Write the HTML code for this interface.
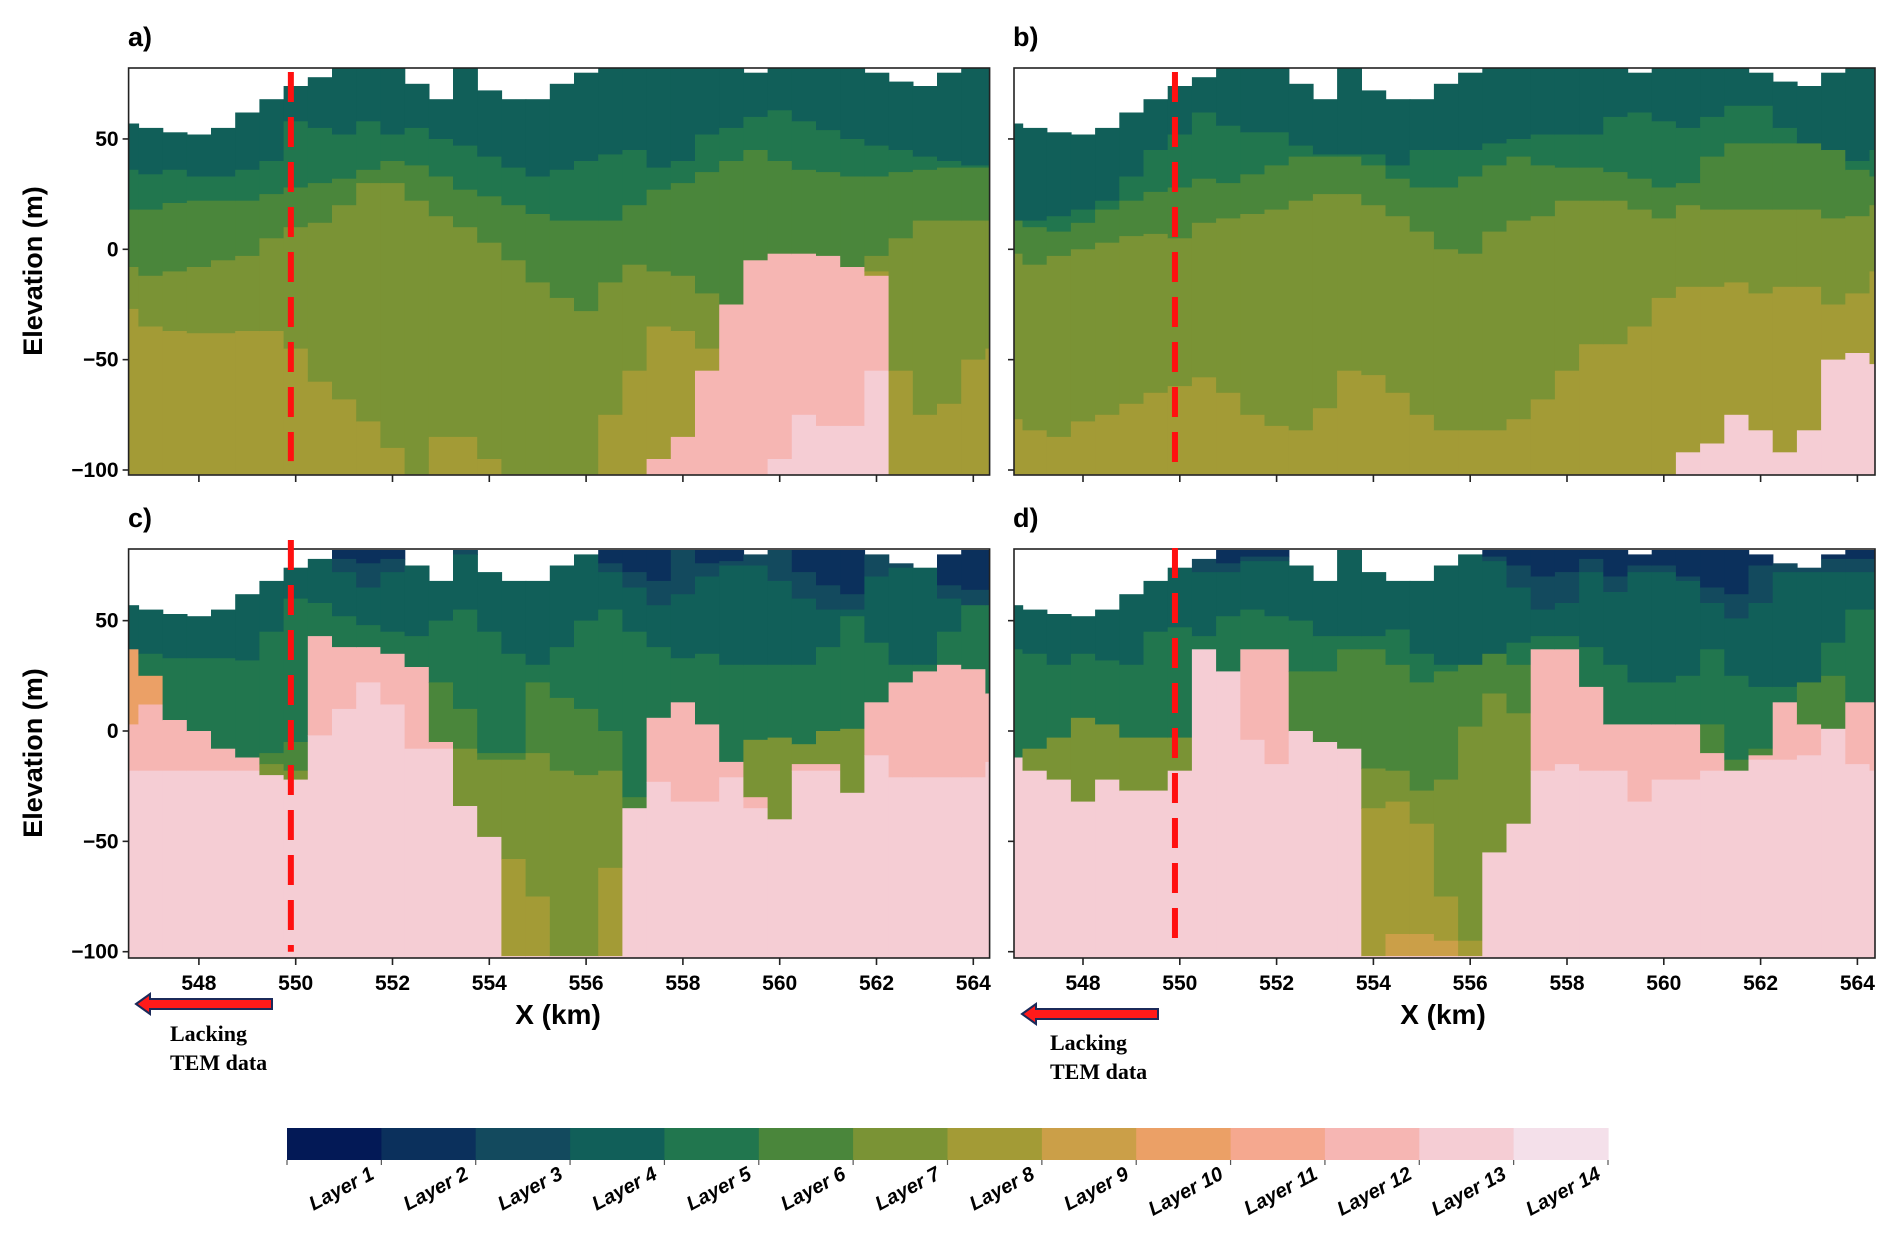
<!DOCTYPE html>
<html>
<head>
<meta charset="utf-8">
<style>
  html,body{margin:0;padding:0;background:#fff;}
  svg{display:block;}
  text{font-family:"Liberation Sans",Arial,sans-serif;}
  text.serif{font-family:"Liberation Serif","Times New Roman",serif;}
</style>
</head>
<body>
<svg id="fig" xmlns="http://www.w3.org/2000/svg" width="1892" height="1237" viewBox="0 0 1892 1237">
  <rect x="0" y="0" width="1892" height="1237" fill="#ffffff"/>
  <defs>
    <clipPath id="clipA"><rect x="128.6" y="68" width="861" height="407"/></clipPath>
    <clipPath id="clipB"><rect x="1014" y="68" width="861" height="407"/></clipPath>
    <clipPath id="clipC"><rect x="128.6" y="549" width="861" height="409"/></clipPath>
    <clipPath id="clipD"><rect x="1014" y="549" width="861" height="409"/></clipPath>
  </defs>
  <g id="layerA" clip-path="url(#clipA)"></g>
  <g id="layerB" clip-path="url(#clipB)"></g>
  <g id="layerC" clip-path="url(#clipC)"></g>
  <g id="layerD" clip-path="url(#clipD)"></g>
  <g id="overlay"></g>

  <text x="128" y="46" font-size="27" font-weight="bold">a)</text>
  <text x="1013" y="46" font-size="27" font-weight="bold">b)</text>
  <text x="128" y="527" font-size="27" font-weight="bold">c)</text>
  <text x="1013" y="527" font-size="27" font-weight="bold">d)</text>

  <text transform="translate(42,271) rotate(-90)" text-anchor="middle" font-size="27" font-weight="bold">Elevation (m)</text>
  <text transform="translate(42,753) rotate(-90)" text-anchor="middle" font-size="27" font-weight="bold">Elevation (m)</text>
  <text x="558" y="1024" text-anchor="middle" font-size="28" font-weight="bold">X (km)</text>
  <text x="1443" y="1024" text-anchor="middle" font-size="28" font-weight="bold">X (km)</text>

  <g>
    <polygon points="136,1004 150,994 150,999 272,999 272,1009 150,1009 150,1014" fill="#ff1a1a" stroke="#1b2a5a" stroke-width="2"/>
    <text class="serif" x="170" y="1041" font-size="22" font-weight="bold">Lacking</text>
    <text class="serif" x="170" y="1070" font-size="22" font-weight="bold">TEM data</text>
  </g>
  <g>
    <polygon points="1022,1014 1036,1004 1036,1009 1158,1009 1158,1019 1036,1019 1036,1024" fill="#ff1a1a" stroke="#1b2a5a" stroke-width="2"/>
    <text class="serif" x="1050" y="1050" font-size="22" font-weight="bold">Lacking</text>
    <text class="serif" x="1050" y="1079" font-size="22" font-weight="bold">TEM data</text>
  </g>
  <g id="colorbar"></g>
</svg>
<script>
// ---------- data ----------
const KM = [546.5,547,547.5,548,548.5,549,549.5,550,550.5,551,551.5,552,552.5,553,553.5,554,554.5,555,555.5,556,556.5,557,557.5,558,558.5,559,559.5,560,560.5,561,561.5,562,562.5,563,563.5,564,564.5];
const LAYER_COLORS = ['#031956','#0b305c','#134a5e','#115f59','#21764e','#4a863b','#7a9335','#a39b36','#cb9f48','#eba066','#f5a88f','#f6b6b3','#f5cdd4','#f4e0ea'];
const LAYER_LABELS = ['Layer 1','Layer 2','Layer 3','Layer 4','Layer 5','Layer 6','Layer 7','Layer 8','Layer 9','Layer 10','Layer 11','Layer 12','Layer 13','Layer 14'];
const Y_TICKS = [50,0,-50,-100];
const X_TICKS = [548,550,552,554,556,558,560,562,564];
const BOUNDARY_KM = 549.9;

const SURFACE = [57,55,53,52,55,62,68,74,78,82,82,82,75,68,82,72,68,68,75,80,82,82,82,82,82,82,80,82,82,82,82,80,76,74,80,82,82];

const A_L4 = [36,34,36,33,33,36,40,58,55,52,58,52,55,50,47,42,37,33,36,40,43,45,37,40,52,55,60,63,58,54,50,47,45,42,40,38,38];
const A_L5 = [18,18,21,22,22,22,25,28,30,32,36,40,38,33,27,24,20,16,13,13,13,20,27,30,35,40,45,40,36,35,33,33,35,36,37,37,37];
const A_L6 = [-8,-12,-10,-8,-5,-3,5,10,12,20,30,30,22,15,10,3,-5,-15,-22,-28,-15,-7,-10,-12,-20,-25,-5,-2,-2,-3,-8,-3,5,13,13,13,13];
const A_L7 = [-27,-35,-37,-38,-38,-37,-37,-45,-60,-68,-78,-90,-102,-85,-85,-95,-102,-102,-102,-102,-75,-55,-35,-37,-45,-25,-5,-2,-2,-3,-8,-10,-55,-75,-70,-50,-45];
const A_L8 = [-102,-102,-102,-102,-102,-102,-102,-102,-102,-102,-102,-102,-102,-102,-102,-102,-102,-102,-102,-102,-102,-102,-95,-85,-55,-25,-5,-2,-2,-3,-8,-12,-102,-102,-102,-102,-102];
const A_L12 = [-102,-102,-102,-102,-102,-102,-102,-102,-102,-102,-102,-102,-102,-102,-102,-102,-102,-102,-102,-102,-102,-102,-102,-102,-102,-102,-102,-95,-75,-80,-80,-55,-102,-102,-102,-102,-102];

const B_L4 = [13,13,15,18,22,33,45,52,62,56,53,53,47,43,43,43,38,45,45,45,48,50,52,52,52,60,62,58,55,60,65,65,55,48,45,40,45];
const B_L5 = [13,10,8,12,18,22,26,28,32,30,34,38,42,42,42,38,32,28,28,33,38,42,38,37,37,35,32,28,30,42,48,48,48,48,45,36,33];
const B_L6 = [-2,-7,-3,0,3,6,7,5,12,14,16,18,22,25,25,20,15,8,0,-2,8,13,15,22,22,22,18,14,20,18,18,18,18,18,14,15,20];
const B_L7 = [-77,-82,-85,-78,-75,-70,-65,-62,-58,-65,-75,-80,-82,-72,-55,-57,-65,-75,-82,-82,-82,-77,-68,-55,-43,-43,-35,-22,-17,-17,-15,-20,-17,-17,-25,-20,-10];
const B_L8 = [-102,-102,-102,-102,-102,-102,-102,-102,-102,-102,-102,-102,-102,-102,-102,-102,-102,-102,-102,-102,-102,-102,-102,-102,-102,-102,-102,-102,-92,-88,-75,-82,-92,-82,-50,-47,-52];

const C_L2 = [57,55,53,52,55,62,68,74,78,78,76,78,75,68,82,72,68,68,75,80,76,72,68,82,76,77,80,82,72,66,62,80,76,74,66,64,64];
const C_L3 = [57,55,53,52,55,62,68,74,78,72,65,72,75,68,80,72,68,68,75,80,72,65,57,62,70,75,75,68,60,55,55,70,74,74,60,57,57];
const C_L4 = [37,35,33,33,33,32,45,60,58,52,48,45,43,50,55,45,35,30,38,50,55,45,38,33,35,30,30,30,30,38,52,40,30,30,45,57,57];
const C_L5 = [37,25,5,0,-8,-12,-10,-5,43,38,38,35,29,22,10,-10,-10,22,15,10,0,-30,6,13,3,-14,-4,-3,-6,0,1,13,22,27,30,28,17];
const C_L6 = [37,25,5,0,-8,-12,-15,-18,43,38,38,35,29,-5,-8,-13,-13,-10,-18,-20,-18,-35,6,13,3,-14,-4,-3,-6,0,1,13,22,27,30,28,17];
const C_L7 = [37,25,5,0,-8,-12,-20,-22,43,38,38,35,29,-5,-34,-48,-58,-75,-102,-102,-62,-35,6,13,3,-14,-30,-40,-15,-15,-28,13,22,27,30,28,17];
const C_L8 = [37,25,5,0,-8,-12,-20,-22,43,38,38,35,29,-5,-34,-48,-102,-102,-102,-102,-102,-35,6,13,3,-14,-30,-40,-15,-15,-28,13,22,27,30,28,17];
const C_L10 = [3,12,5,0,-8,-12,-20,-22,43,38,38,35,29,-5,-34,-48,-102,-102,-102,-102,-102,-35,6,13,3,-14,-30,-40,-15,-15,-28,13,22,27,30,28,17];
const C_L12 = [-18,-18,-18,-18,-18,-18,-18,-18,-2,10,22,12,-8,-8,-34,-48,-102,-102,-102,-102,-102,-35,-23,-32,-32,-21,-35,-40,-18,-18,-28,-11,-21,-21,-21,-21,-14];

const D_L2 = [57,55,53,52,55,62,68,74,78,76,79,79,75,68,82,72,68,68,75,80,79,75,70,72,78,70,75,75,70,65,62,75,76,74,78,78,78];
const D_L3 = [57,55,53,52,55,62,68,74,72,72,77,77,75,68,82,72,68,68,75,80,77,65,55,58,72,63,72,72,68,58,51,58,72,72,72,72,72];
const D_L4 = [37,35,30,35,32,30,45,47,43,52,55,52,50,43,43,43,46,35,30,30,35,40,43,43,38,30,22,22,25,37,25,20,20,22,40,55,55];
const D_L5 = [-12,-8,-3,6,3,-3,-3,-3,37,27,37,37,27,27,37,37,30,22,27,37,43,30,37,37,20,3,3,3,3,3,-13,-8,13,25,25,13,13];
const D_L6 = [-12,-8,-3,6,3,-3,-3,-3,37,27,37,37,0,-5,-8,-17,-18,-27,-22,2,17,8,37,37,20,3,3,3,3,-10,-18,-11,13,3,1,13,13];
const D_L7 = [-12,-18,-22,-32,-22,-27,-27,-18,37,27,37,37,0,-5,-8,-35,-32,-42,-75,-95,-55,-42,37,37,20,3,3,3,3,-10,-18,-11,13,3,1,13,13];
const D_L8 = [-12,-18,-22,-32,-22,-27,-27,-18,37,27,37,37,0,-5,-8,-102,-92,-92,-95,-102,-55,-42,37,37,20,3,3,3,3,-10,-18,-11,13,3,1,13,13];
const D_L9 = [-12,-18,-22,-32,-22,-27,-27,-18,37,27,37,37,0,-5,-8,-102,-102,-102,-102,-102,-55,-42,37,37,20,3,3,3,3,-10,-18,-11,13,3,1,13,13];
const D_L12 = [-12,-18,-22,-32,-22,-27,-27,-18,37,30,-4,-15,0,-5,-8,-35,-102,-102,-102,-102,-55,-42,-18,-15,-18,-18,-32,-22,-22,-18,-18,-13,-13,-11,1,-15,-18];

// ---------- rendering ----------
const NS = 'http://www.w3.org/2000/svg';
function el(tag, attrs, parent){
  const e = document.createElementNS(NS, tag);
  for (const k in attrs) e.setAttribute(k, attrs[k]);
  parent.appendChild(e);
  return e;
}
const PX_PER_KM = 48.4, PX_PER_M = 2.207;
const PANELS = [
  {id:'a', g:'layerA', x0:128.6, x1:989.6, y0:68, y1:475, kx:198.9, ky:249.3, layers:[4,5,6,7,8,12,13], bounds:[A_L4,A_L5,A_L6,A_L7,A_L8,A_L12], yLabels:true, xLabels:false, dashTop:72, dashBot:-96},
  {id:'b', g:'layerB', x0:1014, x1:1875, y0:68, y1:475, kx:1083, ky:249.3, layers:[4,5,6,7,8,13], bounds:[B_L4,B_L5,B_L6,B_L7,B_L8], yLabels:false, xLabels:false, dashTop:72, dashBot:-101},
  {id:'c', g:'layerC', x0:128.6, x1:989.6, y0:549, y1:958, kx:198.9, ky:731, layers:[2,3,4,5,6,7,8,10,12,13], bounds:[C_L2,C_L3,C_L4,C_L5,C_L6,C_L7,C_L8,C_L10,C_L12], yLabels:true, xLabels:true, dashTop:540, dashBot:-100},
  {id:'d', g:'layerD', x0:1014, x1:1875, y0:549, y1:958, kx:1083, ky:731, layers:[2,3,4,5,6,7,8,9,12,13], bounds:[D_L2,D_L3,D_L4,D_L5,D_L6,D_L7,D_L8,D_L9,D_L12], yLabels:false, xLabels:true, dashTop:548, dashBot:-97}
];
const overlay = document.getElementById('overlay');

PANELS.forEach(P => {
  const xs = km => P.kx + (km - 548) * PX_PER_KM;
  const ys = v => P.ky - v * PX_PER_M;
  const g = document.getElementById(P.g);
  const half = 0.25;
  for (let i = 0; i < KM.length; i++) {
    let top = SURFACE[i];
    const xl = xs(KM[i] - half), xr = xs(KM[i] + half);
    for (let j = 0; j < P.layers.length; j++) {
      const L = P.layers[j];
      let bot = (j < P.bounds.length) ? Math.min(P.bounds[j][i], top) : -110;
      if (top > bot) {
        const r = el('rect', {x:xl.toFixed(1), y:ys(top).toFixed(1), width:(xr-xl+0.7).toFixed(1), height:(ys(bot)-ys(top)+0.7).toFixed(1), fill:LAYER_COLORS[L-1]}, g);
        
        
      }
      top = bot;
    }
  }
  const fr = el('rect', {x:P.x0, y:P.y0, width:P.x1-P.x0, height:P.y1-P.y0, fill:'none', stroke:'#222', 'stroke-width':1.6}, overlay);
  
  
  Y_TICKS.forEach(t => {
    const y = ys(t);
    const tk = el('line', {x1:P.x0-6, x2:P.x0, y1:y, y2:y, stroke:'#222', 'stroke-width':1.6}, overlay);
    
    
    if (P.yLabels) {
      const tx = el('text', {x:P.x0-10, y:y+7, 'text-anchor':'end', 'font-size':21, 'font-weight':'bold'}, overlay);
      tx.textContent = (t < 0 ? '\u2212' : '') + Math.abs(t);
      
      
    }
  });
  X_TICKS.forEach(t => {
    const x = xs(t);
    const tk = el('line', {x1:x, x2:x, y1:P.y1, y2:P.y1+7, stroke:'#222', 'stroke-width':1.6}, overlay);
    
    
    if (P.xLabels) {
      const tx = el('text', {x:x, y:P.y1+32, 'text-anchor':'middle', 'font-size':21, 'font-weight':'bold'}, overlay);
      tx.textContent = String(t);
      
      
    }
  });
  const bx = xs(BOUNDARY_KM);
  const dl = el('line', {x1:bx, x2:bx, y1:P.dashTop, y2:ys(P.dashBot), stroke:'#ff1010', 'stroke-width':6, 'stroke-dasharray':'30 15'}, overlay);
  
  
});

const cb = document.getElementById('colorbar');
const CB_X0 = 287, CB_X1 = 1608, CB_Y0 = 1128, CB_H = 32;
const segW = (CB_X1 - CB_X0) / LAYER_COLORS.length;
LAYER_COLORS.forEach((c, k) => {
  const r = el('rect', {x:(CB_X0 + k*segW).toFixed(1), y:CB_Y0, width:(segW+0.6).toFixed(1), height:CB_H, fill:c}, cb);
  
  
});
for (let k = 0; k <= LAYER_COLORS.length; k++) {
  const x = CB_X0 + k*segW;
  const t = el('line', {x1:x, x2:x, y1:CB_Y0+CB_H, y2:CB_Y0+CB_H+5, stroke:'#555', 'stroke-width':1.2}, cb);
  
  
}
LAYER_LABELS.forEach((lab, k) => {
  const x = CB_X0 + (k+1)*segW - 6;
  const y = CB_Y0 + CB_H + 18;
  const tx = el('text', {x:0, y:0, transform:'translate(' + x.toFixed(1) + ',' + y + ') rotate(-28)', 'text-anchor':'end', 'font-size':20, 'font-weight':'bold', 'font-style':'italic'}, cb);
  tx.textContent = lab;
  
  
});
</script>
</body>
</html>
